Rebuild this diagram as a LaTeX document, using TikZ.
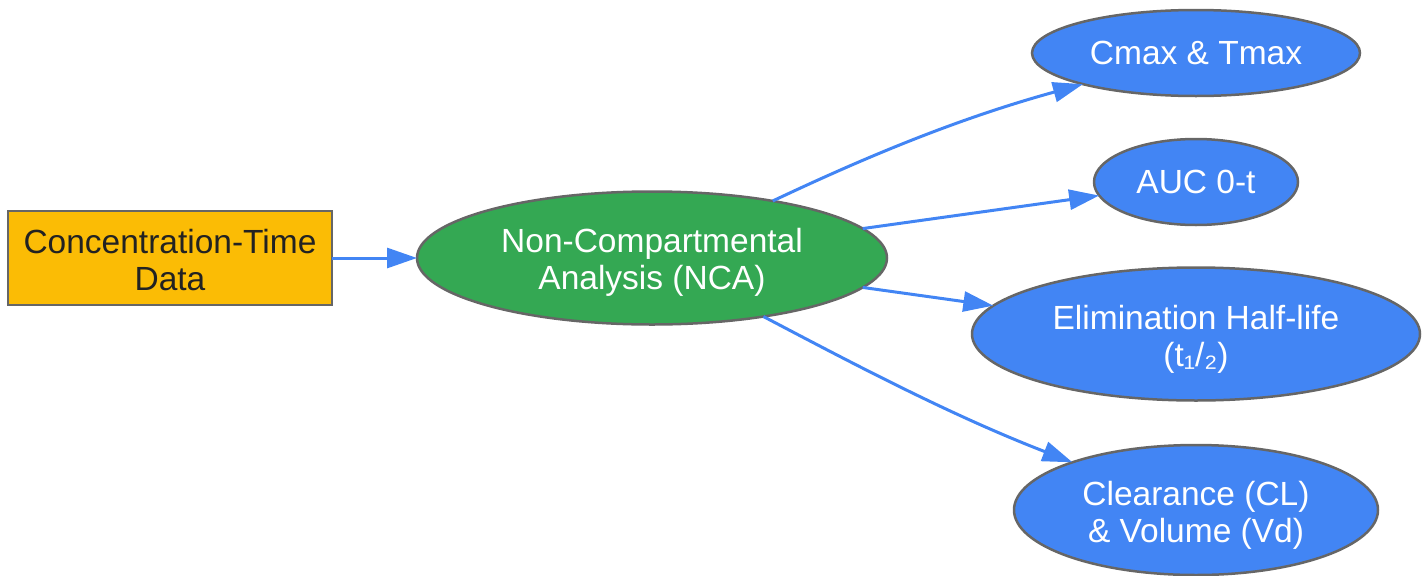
\documentclass[tikz,border=0pt]{standalone}
\usepackage{fontspec}
\setmainfont{Liberation Sans}
\usetikzlibrary{shapes.geometric,arrows.meta}
\definecolor{gborder}{HTML}{666666}
\definecolor{gyellow}{HTML}{FBBC05}
\definecolor{ggreen}{HTML}{34A853}
\definecolor{gblue}{HTML}{4285F4}
\definecolor{gtext}{HTML}{222222}
\newcommand{\lowerby}[1]{\rule{0pt}{#1}}
\tikzset{
  base/.style={draw=gborder, line width=2.5pt, inner sep=0pt, outer sep=0pt, align=center,
    font=\fontsize{33.5}{37}\selectfont},
  rectbox/.style={base, rectangle, fill=gyellow, text=gtext},
  ovalbox/.style={base, ellipse, text=white},
  edge/.style={draw=gblue, line width=3pt, -{Triangle[length=30pt,width=20pt]}}
}
\begin{document}
\begin{tikzpicture}[x=1pt,y=-1pt]
\useasboundingbox (0,0) rectangle (1428,576);
\node[rectbox, minimum width=324pt, minimum height=94pt] (data) at (170,258) {\lowerby{28pt}Concentration-Time\\Data};
\node[ovalbox, fill=ggreen, minimum width=470pt, minimum height=133pt] (nca) at (652,258) {\lowerby{33pt}Non-Compartmental\\Analysis (NCA)};
\node[ovalbox, fill=gblue, minimum width=328pt, minimum height=86pt] (cmax) at (1196,53) {Cmax \& Tmax};
\node[ovalbox, fill=gblue, minimum width=204pt, minimum height=86pt] (auc) at (1196,182) {AUC 0-t};
\node[ovalbox, fill=gblue, minimum width=448pt, minimum height=133pt] (elim) at (1196,334) {\lowerby{34pt}Elimination Half-life\\(t₁/₂)};
\node[ovalbox, fill=gblue, minimum width=364pt, minimum height=130pt] (clr) at (1196,510) {\lowerby{35pt}Clearance (CL)\\\& Volume (Vd)};
\draw[edge] (data) -- (nca);
\draw[edge] (nca) .. controls (870,155) and (960,118) .. (cmax);
\draw[edge] (nca) -- (auc);
\draw[edge] (nca) -- (elim);
\draw[edge] (nca) .. controls (850,362) and (950,415) .. (clr);
\end{tikzpicture}
\end{document}
